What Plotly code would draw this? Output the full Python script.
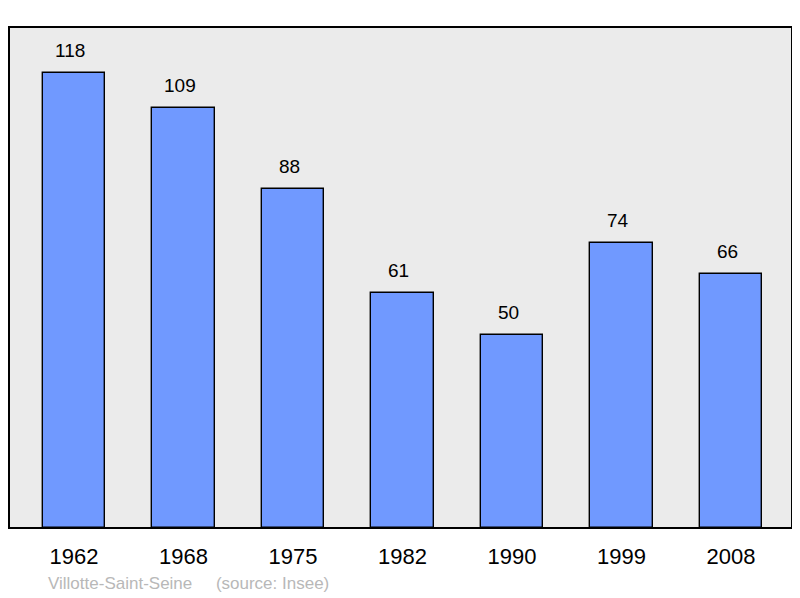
import plotly.graph_objects as go

years = ["1962", "1968", "1975", "1982", "1990", "1999", "2008"]
population = [118, 109, 88, 61, 50, 74, 66]
caption = "Villotte-Saint-Seine     (source: Insee)"

xs = list(range(len(years)))
FONT = "Liberation Sans, Arial"

fig = go.Figure()
fig.add_trace(go.Bar(
    x=xs, y=population, width=0.57,
    marker=dict(color="#7099ff", line=dict(color="#000000", width=1.4)),
    hoverinfo="skip",
))

for x, v in zip(xs, population):
    fig.add_annotation(x=x, y=v, text=str(v), showarrow=False, yanchor="bottom",
                       yshift=10, xshift=-4, font=dict(family=FONT, size=19, color="#000"))

fig.add_annotation(xref="paper", yref="paper", x=0.0475, y=0, yshift=-55,
                   xanchor="left", yanchor="middle",
                   text=caption.replace(" ", "&nbsp;"), showarrow=False,
                   font=dict(family=FONT, size=17, color="#b8b8b8"))

fig.add_shape(type="rect", xref="paper", yref="paper", x0=0, y0=0, x1=1, y1=1,
              line=dict(color="#000", width=2), layer="above")

fig.update_layout(
    width=792, height=590,
    margin=dict(l=1, r=8, t=19, b=70),
    paper_bgcolor="#ffffff", plot_bgcolor="#ebebeb",
    showlegend=False, bargap=0,
    xaxis=dict(range=[-0.594, 6.557], tickvals=xs, ticktext=years, showgrid=False,
               zeroline=False, ticks="", ticklabelstandoff=13,
               tickfont=dict(family=FONT, size=22, color="#000")),
    yaxis=dict(range=[0, 130], showgrid=False, zeroline=False, showticklabels=False, ticks=""),
)

fig.write_html("out.html")
